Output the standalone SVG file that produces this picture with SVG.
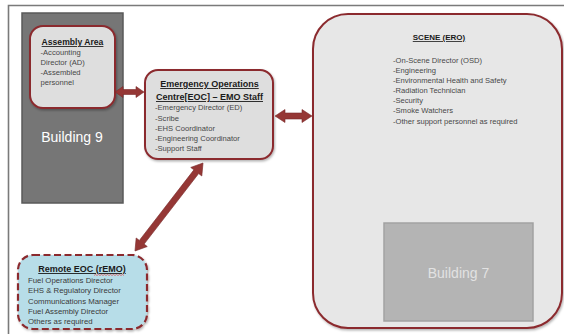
<svg xmlns="http://www.w3.org/2000/svg" width="564" height="334" viewBox="0 0 564 334">
<defs>
<filter id="sh" x="-10%" y="-10%" width="125%" height="125%">
<feDropShadow dx="1" dy="1.5" stdDeviation="1" flood-color="#000" flood-opacity="0.3"/>
</filter>
<style>
text{font-family:"Liberation Sans",Arial,sans-serif;}
.box{fill:#dedede;stroke:#8b2a2e;stroke-width:2;}
.ttl{font-weight:bold;fill:#1a1a1a;text-decoration:underline;}
.it{fill:#474747;font-size:7.6px;}
.rit{fill:#3a3a3a;font-size:7.8px;}
.arr{fill:#953735;stroke:#7a2a2a;stroke-width:0.6;}
</style>
</defs>
<rect width="564" height="334" fill="#fff"/>
<path d="M8.5 334 V5.5 H564" fill="none" stroke="#7a7a7a" stroke-width="1.6"/>

<g id="building9">
<rect x="22" y="13" width="101" height="190" fill="#767676" stroke="#5a5a5a" stroke-width="1.5"/>
<text x="72" y="142" font-size="14" fill="#ffffff" text-anchor="middle">Building 9</text>
</g>

<g id="scene">
<rect x="313" y="14" width="249" height="314" rx="35" ry="35" fill="#e7e7e7" stroke="#8b2a2e" stroke-width="2" filter="url(#sh)"/>
<text x="439" y="40" font-size="8" class="ttl" text-anchor="middle">SCENE (ERO)</text>
<text class="it" x="393" y="63">-On-Scene Director (OSD)</text>
<text class="it" x="393" y="73">-Engineering</text>
<text class="it" x="393" y="83">-Environmental Health and Safety</text>
<text class="it" x="393" y="93">-Radiation Technician</text>
<text class="it" x="393" y="103">-Security</text>
<text class="it" x="393" y="113">-Smoke Watchers</text>
<text class="it" x="393" y="124">-Other support personnel as required</text>
</g>

<g id="building7">
<rect x="384" y="223" width="149" height="98" fill="#b4b4b4" stroke="#a2a2a2" stroke-width="1.5"/>
<text x="458.5" y="278" font-size="14" fill="#e2e2e2" text-anchor="middle">Building 7</text>
</g>

<g id="assembly">
<rect class="box" x="30" y="26" width="85" height="82" rx="13" ry="13" filter="url(#sh)"/>
<text x="72.5" y="45" font-size="8.6" class="ttl" text-anchor="middle">Assembly Area</text>
<text class="it" x="40.5" y="55">-Accounting</text>
<text class="it" x="40.5" y="65">Director (AD)</text>
<text class="it" x="40.5" y="75">-Assembled</text>
<text class="it" x="40.5" y="85">personnel</text>
</g>

<g id="eoc">
<rect class="box" x="145" y="70" width="128" height="89" rx="13" ry="13" filter="url(#sh)"/>
<text x="209.5" y="87" font-size="9" class="ttl" text-anchor="middle">Emergency Operations</text>
<text x="209.5" y="100" font-size="9" class="ttl" text-anchor="middle">Centre[EOC] – EMO Staff</text>
<text class="it" x="155" y="110">-Emergency Director (ED)</text>
<text class="it" x="155" y="121">-Scribe</text>
<text class="it" x="155" y="131">-EHS Coordinator</text>
<text class="it" x="155" y="141">-Engineering Coordinator</text>
<text class="it" x="155" y="151">-Support Staff</text>
</g>

<g id="remote-eoc">
<rect x="18" y="255" width="129" height="74" rx="15" ry="15" fill="#b7dde8" stroke="#8b2a2e" stroke-width="2.2" stroke-dasharray="7 3.5" filter="url(#sh)"/>
<text x="82" y="272" font-size="9" class="ttl" text-anchor="middle">Remote EOC (rEMO)</text>
<path d="M94 275.5 l1.5 -1 l1.5 1 l1.5 -1 l1.5 1 l1.5 -1 l1.5 1 l1.5 -1 l1.5 1 l1.5 -1 l1.5 1 l1.5 -1 l1.5 1 l1.5 -1 l1.5 1 l1.5 -1 l1.5 1 l1.5 -1 l1.5 1 l1.5 -1 l1.5 1" fill="none" stroke="#e03030" stroke-width="0.6"/>
<text class="rit" x="28" y="283">Fuel Operations Director</text>
<text class="rit" x="28" y="293.3">EHS &amp; Regulatory Director</text>
<text class="rit" x="28" y="303.6">Communications Manager</text>
<text class="rit" x="28" y="313.9">Fuel Assembly Director</text>
<text class="rit" x="28" y="324.2">Others as required</text>
</g>

<g id="connectors">
<polygon class="arr" points="115,92 123,86.5 123,89.5 136,89.5 136,86.5 144,92 136,97.5 136,94.5 123,94.5 123,97.5"/>
<polygon class="arr" points="275,116 285,109.5 285,113 302,113 302,109.5 312,116 302,122.5 302,119 285,119 285,122.5"/>
<polygon class="arr" transform="translate(203,163) rotate(127.7)" points="0,0 11,-7 11,-3 100.2,-3 100.2,-7 111.2,0 100.2,7 100.2,3 11,3 11,7"/>
</g>
</svg>
